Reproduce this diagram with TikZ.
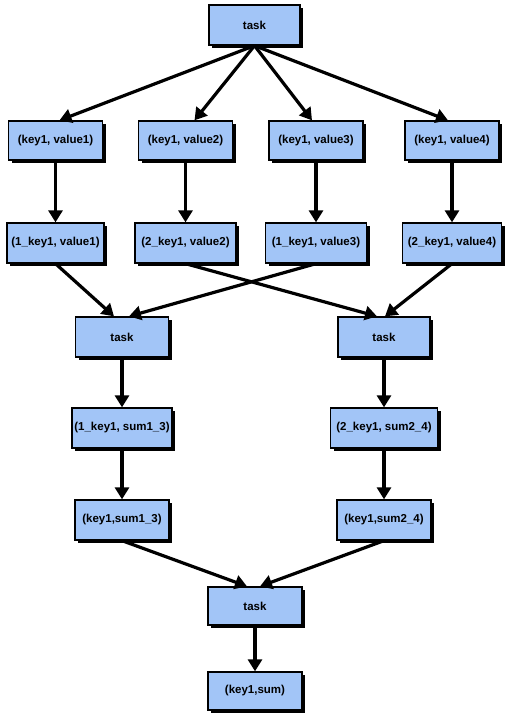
\documentclass[tikz,border=0pt]{standalone}
\usepackage{fontspec}
\setmainfont{Liberation Sans}
\usetikzlibrary{arrows.meta,shadows}
\definecolor{boxblue}{RGB}{162,197,247}
\begin{document}
\begin{tikzpicture}[x=1pt,y=-1pt,
  box/.style={draw=black,line width=1.3pt,fill=boxblue,inner sep=0pt,
    font=\bfseries\fontsize{11.5}{13}\selectfont,
    drop shadow={shadow xshift=3pt,shadow yshift=-3pt,fill=black,opacity=1}},
  arr/.style={line width=3.2pt,-{Triangle[length=12pt,width=14pt]}}]
\useasboundingbox (0,0) rectangle (515,719);
% row 1
\node[box,minimum width=91pt,minimum height=40pt] (t0) at (254.5,25) {task};
% row 2
\node[box,minimum width=94pt,minimum height=39pt] (a1) at (55.5,140.5) {(key1, value1)};
\node[box,minimum width=94pt,minimum height=39pt] (a2) at (185.5,140.5) {(key1, value2)};
\node[box,minimum width=94pt,minimum height=39pt] (a3) at (316,140.5) {(key1, value3)};
\node[box,minimum width=94pt,minimum height=39pt] (a4) at (452,140.5) {(key1, value4)};
% row 3
\node[box,minimum width=97pt,minimum height=40pt] (b1) at (55.5,243) {(1\_key1, value1)};
\node[box,minimum width=101pt,minimum height=40pt] (b2) at (185.5,243) {(2\_key1, value2)};
\node[box,minimum width=101pt,minimum height=40pt] (b3) at (316,243) {(1\_key1, value3)};
\node[box,minimum width=99pt,minimum height=40pt] (b4) at (452,243) {(2\_key1, value4)};
% row 4
\node[box,minimum width=93pt,minimum height=40pt] (t1) at (122,337) {task};
\node[box,minimum width=92pt,minimum height=40pt] (t2) at (384,337) {task};
% row 5
\node[box,minimum width=100pt,minimum height=40pt] (c1) at (122,428) {(1\_key1, sum1\_3)};
\node[box,minimum width=107pt,minimum height=40pt] (c2) at (384,428) {(2\_key1, sum2\_4)};
% row 6
\node[box,minimum width=94pt,minimum height=40pt] (d1) at (122,520) {(key1,sum1\_3)};
\node[box,minimum width=94pt,minimum height=40pt] (d2) at (384,520) {(key1,sum2\_4)};
% row 7
\node[box,minimum width=94pt,minimum height=38pt] (t3) at (255,606) {task};
% row 8
\node[box,minimum width=94pt,minimum height=38pt] (e) at (255,691) {(key1,sum)};
% connectors
\draw[arr] (t0.south) -- ([xshift=4pt]a1.north);
\draw[arr] (t0.south) -- ([xshift=9pt]a2.north);
\draw[arr] (t0.south) -- ([xshift=-4pt]a3.north);
\draw[arr] (t0.south) -- ([xshift=-4pt]a4.north);
\foreach \i in {1,2,3,4} {
  \draw[arr] (a\i) -- (b\i);
}
\draw[arr] (b1.south) -- ([xshift=-8pt]t1.north);
\draw[arr] (b3.south) -- ([xshift=7pt]t1.north);
\draw[arr] (b2.south) -- ([xshift=-7pt]t2.north);
\draw[arr] (b4.south) -- ([xshift=1pt]t2.north);
\draw[arr] (t1) -- (c1);
\draw[arr] (t2) -- (c2);
\draw[arr] (c1) -- (d1);
\draw[arr] (c2) -- (d2);
\draw[arr] (d1.south) -- ([xshift=-8pt]t3.north);
\draw[arr] (d2.south) -- ([xshift=5pt]t3.north);
\draw[arr] (t3) -- (e);
\end{tikzpicture}
\end{document}
